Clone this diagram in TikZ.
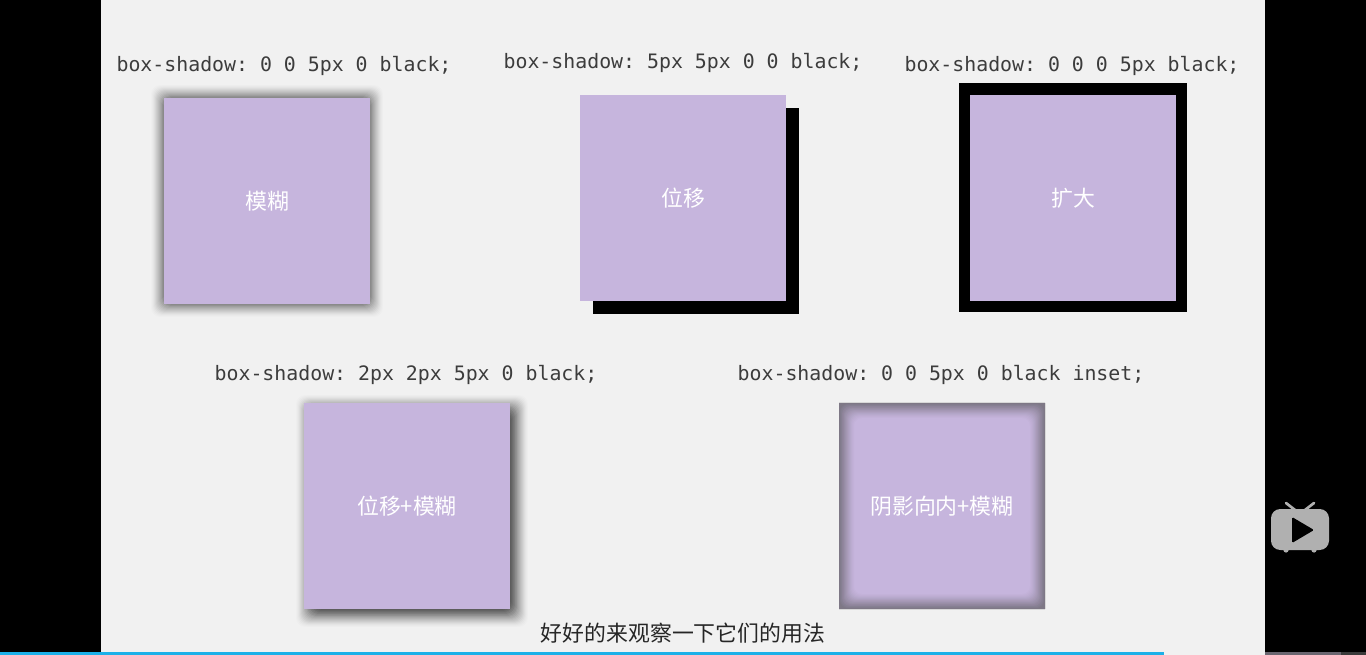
\documentclass[tikz,border=0pt]{standalone}
\usepackage{fontspec}
\setmonofont{DejaVu Sans Mono}
\newfontfamily\cjk{Noto Sans CJK SC}
\definecolor{panelgray}{HTML}{F1F1F1}
\definecolor{boxpurple}{HTML}{C6B5DD}
\definecolor{codegray}{HTML}{3C3C3C}
\definecolor{barblue}{HTML}{1CB0E8}
\definecolor{icongray}{HTML}{B0B0B0}
\definecolor{bargray}{HTML}{6A6670}
\definecolor{bardark}{HTML}{3A3A3A}
\tikzset{
  purplebox/.style={fill=boxpurple,minimum size=154.5pt,inner sep=0pt,text=white,font=\cjk\fontsize{16.4}{16}\selectfont},
  codelabel/.style={inner sep=0pt,text=codegray,font=\ttfamily\fontsize{14.9}{16}\selectfont},
  subtitle/.style={inner sep=0pt,text=black!85,font=\cjk\fontsize{16.4}{18}\selectfont}
}
\newcommand{\blurshadow}[3]{
  \foreach \d [evaluate=\d as \a using {min(.07,.012+.0045*(13-\d))}] in {-6,...,13}
    \fill[black,opacity=\a,rounded corners=7pt] ({#1+#3-103-\d},{#2+#3-103-\d}) rectangle ({#1+#3+103+\d},{#2+#3+103+\d});
}
\begin{document}
\begin{tikzpicture}[x=0.75pt,y=-0.75pt]
  \useasboundingbox (0,0) rectangle (1366,655);
  \fill[black] (0,0) rectangle (1366,655);
  \fill[panelgray] (101,0) rectangle (1265,655);

  \node[codelabel] (codeblur) at (284,66) {box-shadow: 0 0 5px 0 black;};
  \node[codelabel] (codeoffset) at (683,63) {box-shadow: 5px 5px 0 0 black;};
  \node[codelabel] (codespread) at (1072,66) {box-shadow: 0 0 0 5px black;};
  \node[codelabel] (codeboth) at (406,375) {box-shadow: 2px 2px 5px 0 black;};
  \node[codelabel] (codeinset) at (941,375) {box-shadow: 0 0 5px 0 black inset;};

  \blurshadow{267}{201}{0}
  \node[purplebox] (blurbox) at (267,201) {模糊};

  \fill[black] (593,108) rectangle (799,314);
  \node[purplebox] (offsetbox) at (683,198) {位移};

  \fill[black] (959,83) rectangle (1187,312);
  \node[purplebox] (spreadbox) at (1073,198) {扩大};

  \blurshadow{407}{506}{5}
  \node[purplebox] (bothbox) at (407,506) {位移+模糊};

  \node[purplebox] (insetbox) at (942,506) {阴影向内+模糊};
  \foreach \d [evaluate=\d as \a using {.022+.0055*(15-\d)}] in {1,...,15}
    \fill[black!65,opacity=\a,even odd rule,rounded corners=0pt] (839,403) rectangle (1045,609)
      [rounded corners=6pt] ({839+\d},{403+\d}) rectangle ({1045-\d},{609-\d});

  \node[subtitle] (caption) at (683,633) {好好的来观察一下它们的用法};

  \fill[icongray,rounded corners=7pt] (1271,509) rectangle (1329,550);
  \draw[icongray,line width=2pt,line cap=round] (1286,503) -- (1295,510);
  \draw[icongray,line width=2pt,line cap=round] (1314,503) -- (1305,510);
  \fill[icongray] (1286,550) circle (2.6);
  \fill[icongray] (1314,550) circle (2.6);
  \fill[black,rounded corners=1pt] (1292,517) -- (1314,530) -- (1292,543) -- cycle;

  \fill[barblue] (0,652) rectangle (1164,655);
  \fill[panelgray] (1164,652) rectangle (1265,655);
  \fill[bargray] (1265,652) rectangle (1341,655);
  \fill[bardark] (1341,652) rectangle (1366,655);
\end{tikzpicture}
\end{document}
